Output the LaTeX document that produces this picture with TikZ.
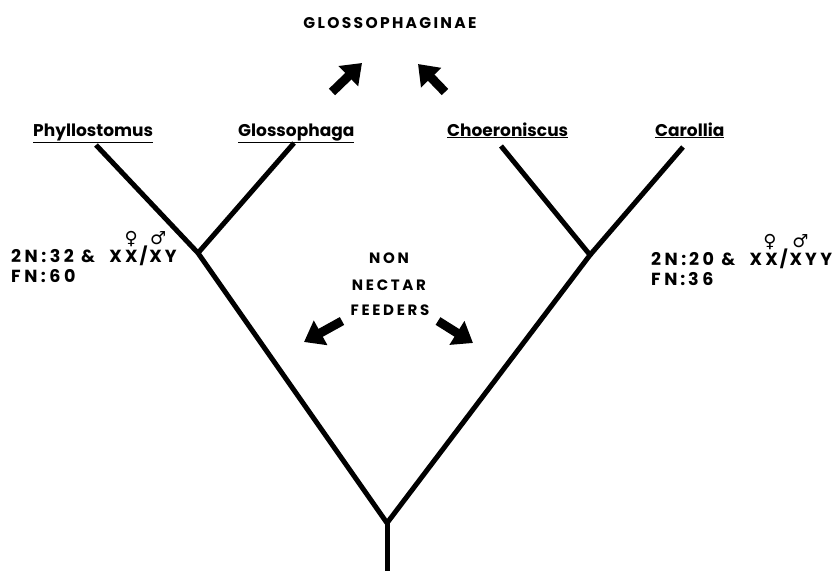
\documentclass[tikz,border=0pt]{standalone}
\usepackage{fontspec}
\setmainfont{Poppins}
\newfontfamily\symfont{DejaVu Sans}[BoldFont={* Bold}]
\usetikzlibrary{arrows.meta}
% symbol set over a letter: #1 letter, #2 symbol, #3 horizontal shift
\newcommand\ovsym[3]{\setbox0\hbox{#1}\rlap{\hbox to\wd0{\hss\kern#3\raisebox{17.5pt}{\symfont\bfseries\fontsize{18}{18}\selectfont #2}\hss}}\box0}
\tikzset{
  branch/.style={line width=5pt, line cap=butt, line join=miter},
  taxon/.style={font=\bfseries\fontsize{17}{20}\selectfont, inner sep=0pt, anchor=base west},
  karyo/.style={font=\bfseries\fontsize{17.5}{20}\selectfont\addfontfeature{LetterSpace=20}, inner sep=0pt, anchor=base west},
  spaced/.style={font=\bfseries\fontsize{15}{18}\selectfont\addfontfeature{LetterSpace=18}, inner sep=0pt, anchor=base},
  blockarrow/.style={line width=9pt, -{Triangle[width=27pt,length=19pt]}},
}
\begin{document}
\begin{tikzpicture}[x=1pt,y=-1pt]
\useasboundingbox (0,0) rectangle (834,571);
% title
\node[font=\bfseries\fontsize{15.5}{18}\selectfont\addfontfeature{LetterSpace=15}, inner sep=0pt, anchor=base] (title) at (390,28) {GLOSSOPHAGINAE};
% arrows toward title
\coordinate (a1s) at (332,92); \coordinate (a1e) at (362,63);
\coordinate (a2s) at (445,92); \coordinate (a2e) at (418,64);
\draw[blockarrow] (a1s) -- (a1e);
\draw[blockarrow] (a2s) -- (a2e);
% taxa
\node[taxon] (phy) at (33,136) {\underline{Phyllostomus}};
\node[taxon] (glo) at (238,136) {\underline{Glossophaga}};
\node[taxon] (cho) at (447,136) {\underline{Choeroniscus}};
\node[taxon] (car) at (655,136) {\underline{Carollia}};
% tree points
\coordinate (phyL) at (96,145);
\coordinate (gloL) at (294,143);
\coordinate (choL) at (501,146);
\coordinate (carL) at (683,147);
\coordinate (lf) at (198,253);
\coordinate (rf) at (590,255);
\coordinate (root) at (387,523);
\coordinate (base) at (387,571);
\draw[branch] (phyL) -- (lf) -- (root);
\draw[branch] (gloL) -- (lf);
\draw[branch] (choL) -- (rf) -- (root);
\draw[branch] (carL) -- (rf);
\draw[branch] (root) -- (base);
% left karyotype
\node[karyo] (lk1) at (11,262) {2N:32\ \&\ \ X\kern3pt\ovsym{X}{♀}{0pt}\kern2pt/\kern2pt\ovsym{X}{♂}{5pt}\kern3pt Y};
\node[karyo] (lk2) at (11,282) {FN:60};
% right karyotype
\node[karyo] (rk1) at (651,265) {2N:\,20\ \&\ \ X\kern3pt\ovsym{X}{♀}{-3pt}\kern2pt/\kern2pt\ovsym{X}{♂}{9pt}\kern3pt YY};
\node[karyo] (rk2) at (651,285) {FN\,:\,36};
% non nectar feeders
\node[spaced] (nnf1) at (389,263) {NON};
\node[spaced] (nnf2) at (389,290) {NECTAR};
\node[spaced] (nnf3) at (390,315) {FEEDERS};
\coordinate (b1s) at (342,321); \coordinate (b1e) at (304,342);
\coordinate (b2s) at (438,321); \coordinate (b2e) at (473,343);
\draw[blockarrow] (b1s) -- (b1e);
\draw[blockarrow] (b2s) -- (b2e);
\end{tikzpicture}
\end{document}
